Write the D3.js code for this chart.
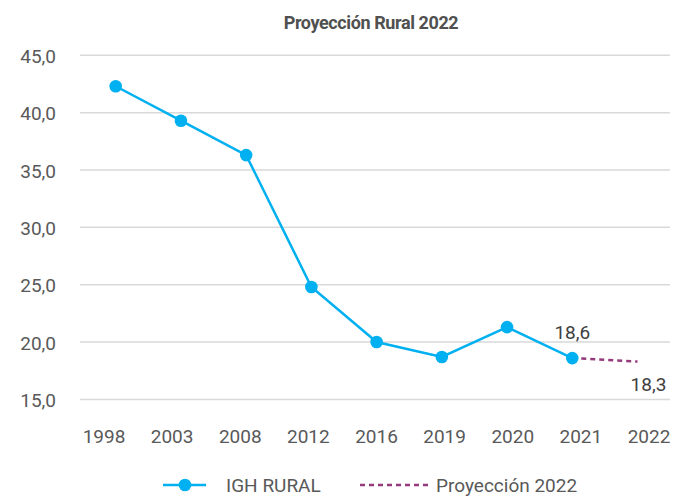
<!DOCTYPE html>
<html><head><meta charset="utf-8">
<script src="https://cdn.jsdelivr.net/npm/d3@7"></script>
<style>html,body{margin:0;padding:0;background:#fff;}svg{display:block;font-family:Roboto,"Noto Sans",sans-serif;}</style>
</head><body>
<svg id="c" width="683" height="497"></svg>
<script>
const categories = ["1998","2003","2008","2012","2016","2019","2020","2021","2022"];
const ighRural = [42.3, 39.3, 36.3, 24.8, 20.0, 18.7, 21.3, 18.6, null];
const proyeccion = [null, null, null, null, null, null, null, 18.6, 18.3];
const yTicks = [15, 20, 25, 30, 35, 40, 45];
const title = "Proyección Rural 2022";
const seriesNames = ["IGH RURAL", "Proyección 2022"];
const dataLabels = [{cat:"2021", value:18.6, series:0}, {cat:"2022", value:18.3, series:1}];

const svg = d3.select("#c");
const fmt = v => d3.format(".1f")(v).replace(".", ",");

const x = d3.scalePoint().domain(categories).range([115.7, 637.5]);
const xLab = d3.scalePoint().domain(categories).range([104, 649]);
const y = d3.scaleLinear().domain([15, 45]).range([399.4, 55.3]);

// gridlines
svg.append("g").selectAll("line").data(yTicks).join("line")
  .attr("x1", 80).attr("x2", 670)
  .attr("y1", d => y(d)).attr("y2", d => y(d))
  .attr("stroke", "#d9d9d9").attr("stroke-width", 1.5);

// y labels
svg.append("g").selectAll("text").data(yTicks).join("text")
  .attr("x", 56).attr("y", d => y(d) + 7.5)
  .attr("text-anchor", "end").attr("font-size", 19).attr("fill", "#595959")
  .text(d => fmt(d));

// x labels
svg.append("g").selectAll("text").data(categories).join("text")
  .attr("x", d => xLab(d)).attr("y", 443)
  .attr("text-anchor", "middle").attr("font-size", 19).attr("fill", "#595959")
  .text(d => d);

// title
svg.append("text").attr("x", 371).attr("y", 29).attr("text-anchor", "middle")
  .attr("font-size", 18).attr("font-weight", "bold").attr("fill", "#505050")
  .attr("letter-spacing", -0.4).text(title);

const blue = "#00b0f0", purple = "#953a7a";

// projection dashed line
const projPts = categories.map((c, i) => ({c, v: proyeccion[i]})).filter(d => d.v != null);
svg.append("path").datum(projPts)
  .attr("d", d3.line().x(d => x(d.c)).y(d => y(d.v)))
  .attr("fill", "none").attr("stroke", purple).attr("stroke-width", 2.5)
  .attr("stroke-dasharray", "5,4");

// main line
const mainPts = categories.map((c, i) => ({c, v: ighRural[i]})).filter(d => d.v != null);
svg.append("path").datum(mainPts)
  .attr("d", d3.line().x(d => x(d.c)).y(d => y(d.v)))
  .attr("fill", "none").attr("stroke", blue).attr("stroke-width", 2.5);
svg.append("g").selectAll("circle").data(mainPts).join("circle")
  .attr("cx", d => x(d.c)).attr("cy", d => y(d.v)).attr("r", 6.3).attr("fill", blue);

// data labels
svg.append("g").selectAll("text").data(dataLabels).join("text")
  .attr("x", d => x(d.cat) + (d.series === 0 ? 0 : 11))
  .attr("y", d => y(d.value) + (d.series === 0 ? -19 : 29))
  .attr("text-anchor", "middle").attr("font-size", 19).attr("fill", "#404040")
  .text(d => fmt(d.value));

// legend
const lg = svg.append("g");
lg.append("line").attr("x1", 163).attr("x2", 206).attr("y1", 485).attr("y2", 485)
  .attr("stroke", blue).attr("stroke-width", 2.5);
lg.append("circle").attr("cx", 185).attr("cy", 485).attr("r", 6.3).attr("fill", blue);
lg.append("text").attr("x", 226).attr("y", 491.5).attr("font-size", 19).attr("fill", "#595959").text(seriesNames[0]);
lg.append("line").attr("x1", 360).attr("x2", 428).attr("y1", 485).attr("y2", 485)
  .attr("stroke", purple).attr("stroke-width", 2.5).attr("stroke-dasharray", "5,4");
lg.append("text").attr("x", 436).attr("y", 491.5).attr("font-size", 19).attr("fill", "#595959").text(seriesNames[1]);
</script>
</body></html>
